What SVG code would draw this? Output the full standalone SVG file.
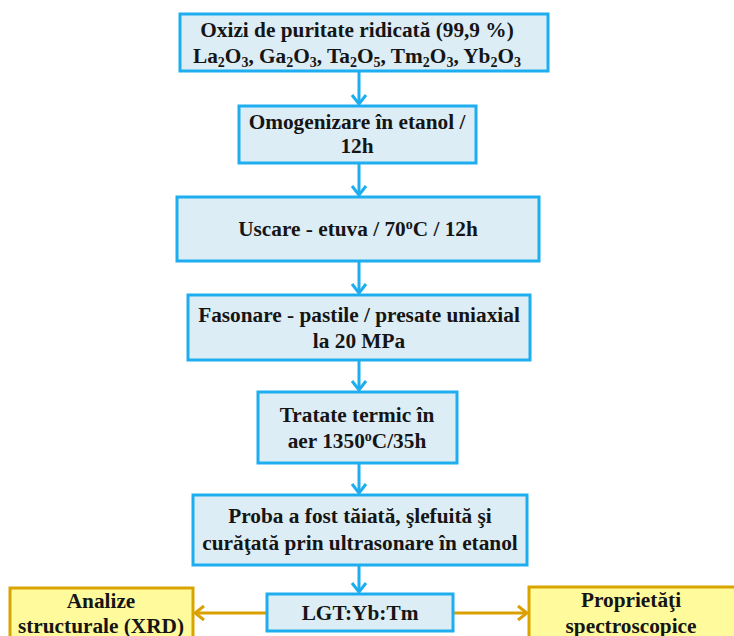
<svg xmlns="http://www.w3.org/2000/svg" width="734" height="636" viewBox="0 0 734 636" font-family="Liberation Serif, serif">
  <style>
    .step rect { fill: #dcedf5; stroke: #1eaef0; stroke-width: 3; }
    .result rect { fill: #fffb9c; stroke: #d9a300; stroke-width: 3; }
    text { font-weight: bold; font-size: 21.3px; fill: #151515; text-anchor: middle; }
    .sub { font-size: 14px; }
    .flow { stroke: #1eaef0; stroke-width: 3; fill: none; }
    .side { stroke: #d9a000; stroke-width: 3; fill: none; }
  </style>
  <defs>
    <marker id="arrowBlue" markerUnits="userSpaceOnUse" viewBox="-12 -9 14 18" refX="0" refY="0" markerWidth="14" markerHeight="18" orient="auto">
      <path d="M-9,-7 L0,0 L-9,7" fill="none" stroke="#1eaef0" stroke-width="3"/>
    </marker>
    <marker id="arrowGold" markerUnits="userSpaceOnUse" viewBox="-12 -9 14 18" refX="0" refY="0" markerWidth="14" markerHeight="18" orient="auto">
      <path d="M-9,-7 L0,0 L-9,7" fill="none" stroke="#d9a000" stroke-width="3"/>
    </marker>
  </defs>

  <g id="connectors">
    <line class="flow" x1="359" y1="72" x2="359" y2="104" marker-end="url(#arrowBlue)"/>
    <line class="flow" x1="359" y1="164" x2="359" y2="195" marker-end="url(#arrowBlue)"/>
    <line class="flow" x1="359" y1="262" x2="359" y2="293" marker-end="url(#arrowBlue)"/>
    <line class="flow" x1="359" y1="361" x2="359" y2="390" marker-end="url(#arrowBlue)"/>
    <line class="flow" x1="359" y1="464" x2="359" y2="493" marker-end="url(#arrowBlue)"/>
    <line class="flow" x1="359" y1="566" x2="359" y2="592" marker-end="url(#arrowBlue)"/>
    <line class="side" x1="267" y1="613" x2="195" y2="613" marker-end="url(#arrowGold)"/>
    <line class="side" x1="453" y1="613" x2="527" y2="613" marker-end="url(#arrowGold)"/>
  </g>

  <g id="oxizi" class="step">
    <rect x="180" y="14" width="368" height="57"/>
    <text x="357" y="37">Oxizi de puritate ridicată (99,9 %)</text>
    <text x="357" y="63">La<tspan class="sub" dy="4">2</tspan><tspan dy="-4">O</tspan><tspan class="sub" dy="4">3</tspan><tspan dy="-4">, Ga</tspan><tspan class="sub" dy="4">2</tspan><tspan dy="-4">O</tspan><tspan class="sub" dy="4">3</tspan><tspan dy="-4">, Ta</tspan><tspan class="sub" dy="4">2</tspan><tspan dy="-4">O</tspan><tspan class="sub" dy="4">5</tspan><tspan dy="-4">, Tm</tspan><tspan class="sub" dy="4">2</tspan><tspan dy="-4">O</tspan><tspan class="sub" dy="4">3</tspan><tspan dy="-4">, Yb</tspan><tspan class="sub" dy="4">2</tspan><tspan dy="-4">O</tspan><tspan class="sub" dy="4">3</tspan></text>
  </g>

  <g id="omogenizare" class="step">
    <rect x="239" y="106" width="237" height="57"/>
    <text x="357" y="129">Omogenizare în etanol /</text>
    <text x="357" y="153">12h</text>
  </g>

  <g id="uscare" class="step">
    <rect x="177" y="197" width="362" height="64"/>
    <text x="358" y="236">Uscare - etuva / 70<tspan class="sub" dy="-7">o</tspan><tspan dy="7">C / 12h</tspan></text>
  </g>

  <g id="fasonare" class="step">
    <rect x="188" y="295" width="342" height="65"/>
    <text x="359" y="322">Fasonare - pastile / presate uniaxial</text>
    <text x="359" y="348">la 20 MPa</text>
  </g>

  <g id="tratare" class="step">
    <rect x="258" y="392" width="199" height="71"/>
    <text x="357" y="422">Tratate termic în</text>
    <text x="357" y="448">aer 1350<tspan class="sub" dy="-7">o</tspan><tspan dy="7">C/35h</tspan></text>
  </g>

  <g id="proba" class="step">
    <rect x="193" y="495" width="334" height="70"/>
    <text x="360" y="523">Proba a fost tăiată, şlefuită şi</text>
    <text x="360" y="550">curăţată prin ultrasonare în etanol</text>
  </g>

  <g id="lgt" class="step">
    <rect x="267" y="594" width="186" height="37"/>
    <text x="360" y="620">LGT:Yb:Tm</text>
  </g>

  <g id="analize" class="result">
    <rect x="10" y="588" width="183" height="60"/>
    <text x="101" y="608">Analize</text>
    <text x="101" y="633">structurale (XRD)</text>
  </g>

  <g id="proprietati" class="result">
    <rect x="529" y="587" width="210" height="60"/>
    <text x="631" y="607">Proprietăţi</text>
    <text x="631" y="633">spectroscopice</text>
  </g>
</svg>
